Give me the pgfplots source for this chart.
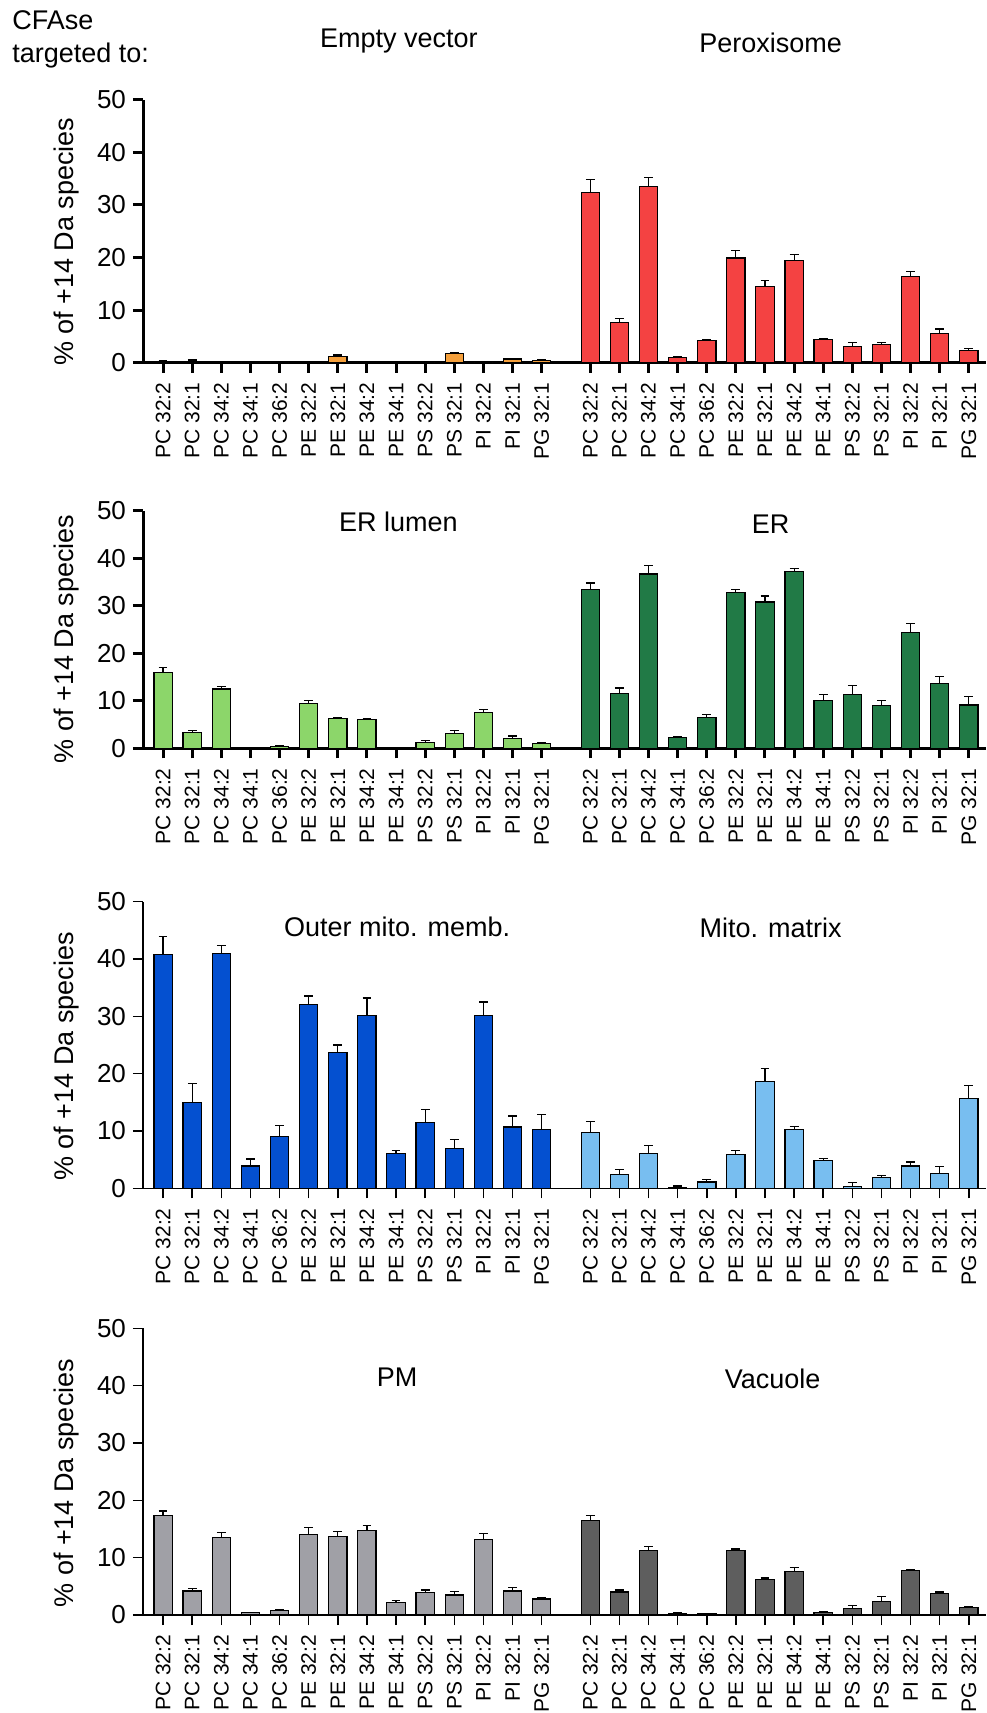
\documentclass[border=0pt]{standalone}
\usepackage{fontspec}
\setmainfont{Liberation Sans}
\usepackage{pgfplots}
\usepackage{pgfplotstable}
\pgfplotsset{compat=1.18}

\definecolor{cEV}{HTML}{F5A03C}
\definecolor{cPX}{HTML}{F44242}
\definecolor{cERL}{HTML}{8CD66A}
\definecolor{cER}{HTML}{217A46}
\definecolor{cOMM}{HTML}{0450D0}
\definecolor{cMM}{HTML}{78BEF0}
\definecolor{cPM}{HTML}{A0A0A6}
\definecolor{cVAC}{HTML}{5E5E5E}

% ---- Panel 1 ----
\pgfplotstableread{
x y e
0 0.2 0.15
1 0.3 0.2
2 0 0
3 0 0
4 0 0
5 0.1 0.05
6 1.2 0.25
7 0 0
8 0 0
9 0 0
10 1.7 0.3
11 0 0
12 0.7 0.15
13 0.4 0.15
}\EV
\pgfplotstableread{
x y e
14.67 32.4 2.5
15.67 7.7 0.7
16.67 33.5 1.7
17.67 1.0 0.1
18.67 4.2 0.15
19.67 19.9 1.4
20.67 14.5 1.1
21.67 19.4 1.1
22.67 4.4 0.25
23.67 3.1 0.7
24.67 3.4 0.5
25.67 16.4 0.95
26.67 5.5 0.9
27.67 2.3 0.45
}\PX
% ---- Panel 2 ----
\pgfplotstableread{
x y e
0 15.9 1.05
1 3.3 0.5
2 12.5 0.5
3 0.1 0.05
4 0.4 0.15
5 9.5 0.6
6 6.2 0.3
7 6.0 0.3
8 0.2 0.05
9 1.2 0.4
10 3.1 0.6
11 7.6 0.55
12 2.1 0.5
13 1.0 0.3
}\ERL
\pgfplotstableread{
x y e
14.67 33.5 1.3
15.67 11.6 1.1
16.67 36.7 1.7
17.67 2.2 0.2
18.67 6.5 0.55
19.67 32.8 0.55
20.67 30.8 1.25
21.67 37.2 0.65
22.67 10.0 1.4
23.67 11.4 1.8
24.67 9.0 1.1
25.67 24.3 2.0
26.67 13.7 1.4
27.67 9.1 1.8
}\ER
% ---- Panel 3 ----
\pgfplotstableread{
x y e
0 40.8 3.1
1 14.9 3.4
2 41.0 1.3
3 3.9 1.2
4 9.1 1.9
5 32.1 1.45
6 23.7 1.3
7 30.2 3.0
8 6.1 0.45
9 11.5 2.3
10 7.0 1.45
11 30.2 2.3
12 10.7 1.9
13 10.3 2.55
}\OMM
\pgfplotstableread{
x y e
14.67 9.7 2.0
15.67 2.4 0.9
16.67 6.1 1.35
17.67 0.2 0.2
18.67 1.1 0.4
19.67 5.9 0.75
20.67 18.6 2.25
21.67 10.2 0.65
22.67 4.8 0.4
23.67 0.35 0.6
24.67 1.9 0.35
25.67 3.9 0.7
26.67 2.6 1.15
27.67 15.6 2.4
}\MM
% ---- Panel 4 ----
\pgfplotstableread{
x y e
0 17.4 0.75
1 4.2 0.45
2 13.5 0.95
3 0.4 0.1
4 0.8 0.15
5 14.1 1.15
6 13.7 0.8
7 14.8 0.8
8 2.2 0.35
9 3.9 0.45
10 3.5 0.65
11 13.2 0.95
12 4.2 0.6
13 2.8 0.25
}\PM
\pgfplotstableread{
x y e
14.67 16.5 0.8
15.67 4.0 0.35
16.67 11.2 0.7
17.67 0.2 0.15
18.67 0.2 0.1
19.67 11.3 0.2
20.67 6.2 0.25
21.67 7.6 0.75
22.67 0.5 0.12
23.67 1.2 0.4
24.67 2.3 0.9
25.67 7.8 0.2
26.67 3.8 0.2
27.67 1.3 0.25
}\VAC

\pgfplotsset{
 panel/.style={
  scale only axis, width=421.5pt, anchor=south west,
  xmin=-0.69, xmax=28.26, ymin=0, ymax=50,
  axis x line=bottom, axis y line=left, axis line style={-},
  ytick={0,10,20,30,40,50},
  xtick={0,1,2,3,4,5,6,7,8,9,10,11,12,13,14.67,15.67,16.67,17.67,18.67,19.67,20.67,21.67,22.67,23.67,24.67,25.67,26.67,27.67},
  xticklabels={PC 32:2,PC 32:1,PC 34:2,PC 34:1,PC 36:2,PE 32:2,PE 32:1,PE 34:2,PE 34:1,PS 32:2,PS 32:1,PI 32:2,PI 32:1,PG 32:1,PC 32:2,PC 32:1,PC 34:2,PC 34:1,PC 36:2,PE 32:2,PE 32:1,PE 34:2,PE 34:1,PS 32:2,PS 32:1,PI 32:2,PI 32:1,PG 32:1},
  tick align=outside, major tick length=5pt,
  xticklabel shift=1.5pt,
  xticklabel style={rotate=90, anchor=east, font=\fontsize{10.5}{10.5}\selectfont},
  yticklabel style={font=\fontsize{13}{13}\selectfont},
  /pgf/number format/assume math mode=true,
  ylabel={\% of +14 Da species},
  every axis y label/.style={at={(axis cs:-3.33,23)}, rotate=90, anchor=center, font=\fontsize{13.5}{13.5}\selectfont},
  clip=false,
 },
 thickax/.style={axis line style={line width=1.5pt}, major tick style={line width=1.5pt, black},
   xtick style={line width=1.5pt, black}, ytick style={line width=1.5pt, black}},
 thinax/.style={axis line style={line width=0.75pt}, major tick style={line width=0.75pt, black},
   xtick style={line width=0.75pt, black}, ytick style={line width=0.75pt, black}},
 bars/.style={ybar, bar width=9.15pt, draw=black, line width=0.6pt,
   /pgfplots/error bars/y dir=plus, /pgfplots/error bars/y explicit,
   /pgfplots/error bars/error mark options={rotate=90, mark size=2.2pt, line width=0.6pt, black},
   /pgfplots/error bars/error bar style={line width=0.6pt, black}},
}
\newcommand{\ttl}[3]{\node[anchor=base, font=\fontsize{13.5}{13.5}\selectfont] at (axis cs:#1,#2) {#3};}

\begin{document}
\begin{tikzpicture}
\useasboundingbox (0,0) rectangle (493pt,-856.5pt);
\node[anchor=north west, align=left, inner sep=0pt, font=\fontsize{13.5}{16.5}\selectfont] at (6pt,-5pt) {CFAse\\targeted to:};

\begin{axis}[panel, thickax, at={(71.5pt,-181.35pt)}, height=131.5pt]
\addplot[bars, fill=cEV] table[x=x, y=y, y error=e] {\EV};
\addplot[bars, fill=cPX] table[x=x, y=y, y error=e] {\PX};
\ttl{8.1}{59.9}{Empty vector}
\ttl{20.86}{59.0}{Peroxisome}
\end{axis}

\begin{axis}[panel, thickax, at={(71.5pt,-374.15pt)}, height=118.8pt]
\addplot[bars, fill=cERL] table[x=x, y=y, y error=e] {\ERL};
\addplot[bars, fill=cER] table[x=x, y=y, y error=e] {\ER};
\ttl{8.08}{45.6}{ER lumen}
\ttl{20.86}{45.2}{ER}
\end{axis}

\begin{axis}[panel, thinax, at={(71.5pt,-594.15pt)}, height=143.35pt]
\addplot[bars, fill=cOMM] table[x=x, y=y, y error=e] {\OMM};
\addplot[bars, fill=cMM] table[x=x, y=y, y error=e] {\MM};
\ttl{8.04}{44.0}{Outer mito. memb.}
\ttl{20.86}{43.8}{Mito. matrix}
\end{axis}

\begin{axis}[panel, thinax, at={(71.5pt,-807.5pt)}, height=143.35pt]
\addplot[bars, fill=cPM] table[x=x, y=y, y error=e] {\PM};
\addplot[bars, fill=cVAC] table[x=x, y=y, y error=e] {\VAC};
\ttl{8.04}{39.8}{PM}
\ttl{20.93}{39.5}{Vacuole}
\end{axis}
\end{tikzpicture}
\end{document}
